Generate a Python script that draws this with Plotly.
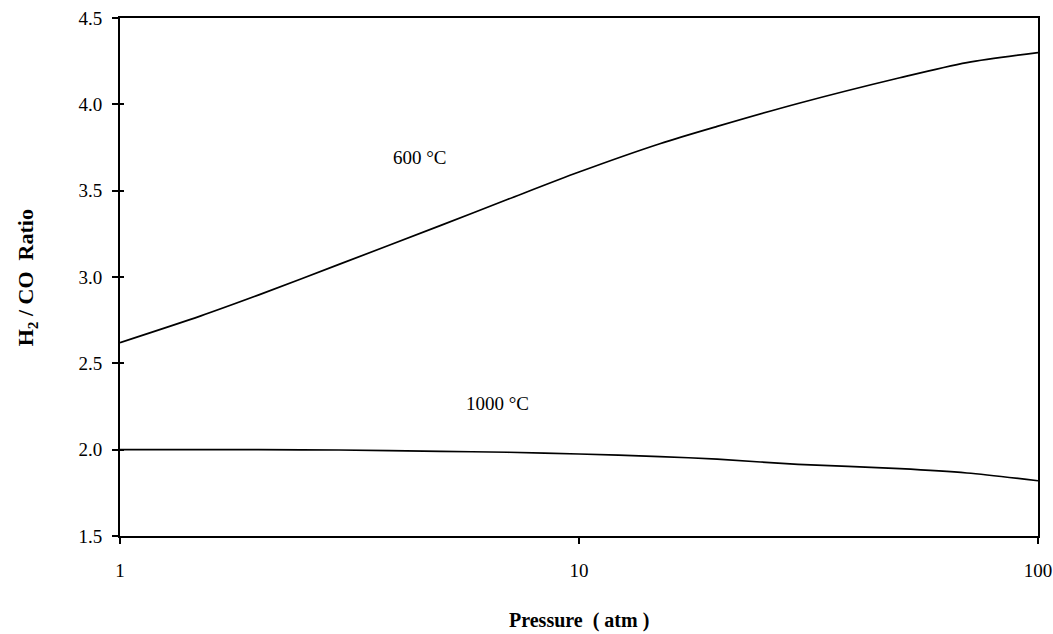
import plotly.graph_objects as go

pressure = [1, 1.5, 2, 3, 5, 7, 10, 15, 20, 30, 50, 70, 100]
ratio_600 = [2.62, 2.775, 2.895, 3.073, 3.299, 3.45, 3.608, 3.772, 3.872, 4.005, 4.154, 4.242, 4.30]
ratio_1000 = [2.00, 2.00, 2.00, 1.998, 1.99, 1.985, 1.975, 1.96, 1.945, 1.915, 1.89, 1.865, 1.82]

x_ticks = [1, 10, 100]
x_tick_labels = ["1", "10", "100"]
y_ticks = [1.5, 2.0, 2.5, 3.0, 3.5, 4.0, 4.5]
y_tick_labels = ["1.5", "2.0", "2.5", "3.0", "3.5", "4.0", "4.5"]

font_family = "Liberation Serif"
tick_font = dict(family=font_family, size=19, color="black")

fig = go.Figure()
fig.add_trace(go.Scatter(x=pressure, y=ratio_600, mode="lines",
                         line=dict(color="black", width=1.7, shape="spline", smoothing=0.8), showlegend=False))
fig.add_trace(go.Scatter(x=pressure, y=ratio_1000, mode="lines",
                         line=dict(color="black", width=1.7, shape="spline", smoothing=0.8), showlegend=False))
# invisible trace on the overlay axis so that its inside ticks are drawn
fig.add_trace(go.Scatter(x=pressure, y=ratio_1000, mode="lines", yaxis="y2",
                         line=dict(color="rgba(0,0,0,0)", width=0), hoverinfo="skip", showlegend=False))

fig.add_annotation(x=0.654, y=3.69, xref="x", yref="y", text="600 °C", showarrow=False,
                   font=dict(family=font_family, size=19, color="black"))
fig.add_annotation(x=0.822, y=2.267, xref="x", yref="y", text="1000 °C", showarrow=False,
                   font=dict(family=font_family, size=19, color="black"))

# axis titles
fig.add_annotation(x=0.5, y=-0.164, xref="paper", yref="paper", xanchor="center", yanchor="middle",
                   text="<b>Pressure  ( atm )</b>", showarrow=False,
                   font=dict(family=font_family, size=20, color="black"))
fig.add_annotation(x=-0.101, y=0.498, xref="paper", yref="paper", xanchor="center", yanchor="middle",
                   text="<b>H<sub>2</sub> / CO  Ratio</b>", showarrow=False, textangle=-90,
                   font=dict(family=font_family, size=22, color="black"))

fig.update_layout(
    width=1053, height=634, margin=dict(l=120, r=15, t=18, b=98),
    paper_bgcolor="white", plot_bgcolor="white",
    xaxis=dict(type="log", range=[0, 2], tickvals=x_ticks, ticktext=x_tick_labels,
               showline=True, linecolor="black", linewidth=1.7, mirror=True,
               ticks="outside", ticklen=6, tickwidth=1.5, tickcolor="black",
               showgrid=False, zeroline=False, automargin=False, ticklabelstandoff=10,
               tickfont=tick_font),
    yaxis=dict(range=[1.5, 4.5], tickvals=y_ticks, ticktext=y_tick_labels,
               showline=True, linecolor="black", linewidth=1.7, mirror=True,
               ticks="outside", ticklen=6, tickwidth=1.5, tickcolor="black",
               showgrid=False, zeroline=False, automargin=False, ticklabelstandoff=6,
               tickfont=tick_font),
    yaxis2=dict(range=[1.5, 4.5], tickvals=y_ticks, overlaying="y", side="left",
                ticks="inside", ticklen=4, tickwidth=1.5, tickcolor="black",
                showticklabels=False, showgrid=False, zeroline=False, showline=False,
                automargin=False),
)

fig.write_html("out.html", config={"displayModeBar": False},
               post_script="document.body.style.margin='0';document.body.style.overflow='hidden';")
